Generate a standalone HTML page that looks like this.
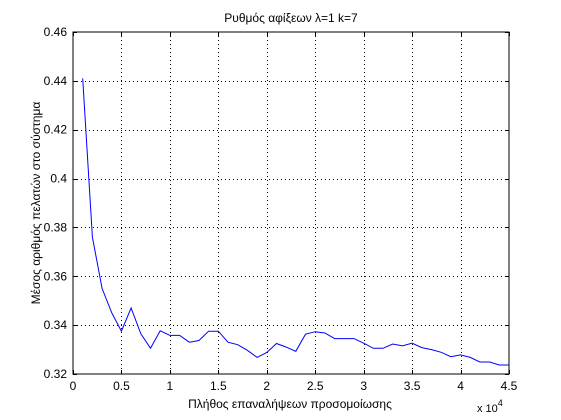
<!DOCTYPE html>
<html><head><meta charset="utf-8"><style>
body{margin:0;background:#fff;}
svg{display:block;font-family:"Liberation Sans","DejaVu Sans",sans-serif;}
</style></head><body>
<svg id="chart" width="561" height="420" viewBox="0 0 561 420">
<rect x="0" y="0" width="561" height="420" fill="#fff"/>
<rect x="73" y="32" width="436" height="342" fill="#fff" stroke="none"/>
<g id="grid"></g>
<g id="series"></g>
<rect x="73" y="32" width="436" height="342" fill="none" stroke="#000" stroke-width="1"/>
<g id="ticks"></g>
<text x="291" y="22" font-size="12" text-anchor="middle">Ρυθμός αφίξεων λ=1 k=7</text>
<text x="290" y="408" font-size="12" text-anchor="middle">Πλήθος επαναλήψεων προσομοίωσης</text>
<text transform="translate(40,203) rotate(-90)" font-size="12" text-anchor="middle">Μέσος αριθμός πελατών στο σύστημα</text>
<text x="477" y="412" font-size="11">x 10<tspan dy="-6" font-size="9">4</tspan></text>
</svg>
<script>
const xTicks=[0,0.5,1,1.5,2,2.5,3,3.5,4,4.5];
const xTickLabels=["0","0.5","1","1.5","2","2.5","3","3.5","4","4.5"];
const yTicks=[0.32,0.34,0.36,0.38,0.4,0.42,0.44,0.46];
const yTickLabels=["0.32","0.34","0.36","0.38","0.4","0.42","0.44","0.46"];
const xValues=[0.1,0.2,0.3,0.4,0.5,0.6,0.7,0.8,0.9,1.0,1.1,1.2,1.3,1.4,1.5,1.6,1.7,1.8,1.9,2.0,2.1,2.2,2.3,2.4,2.5,2.6,2.7,2.8,2.9,3.0,3.1,3.2,3.3,3.4,3.5,3.6,3.7,3.8,3.9,4.0,4.1,4.2,4.3,4.4,4.5];
const yValues=[0.441,0.376,0.355,0.345,0.3375,0.347,0.3365,0.3305,0.3377,0.3358,0.3358,0.333,0.3337,0.3375,0.3375,0.333,0.332,0.3297,0.3268,0.3288,0.3325,0.331,0.3293,0.3363,0.3373,0.3368,0.3345,0.3345,0.3345,0.3326,0.3305,0.3305,0.3323,0.3315,0.3326,0.3308,0.33,0.3289,0.3271,0.3278,0.3268,0.3249,0.3249,0.3237,0.3237];
const NS="http://www.w3.org/2000/svg";
const X0=73,X1=509,Y0=374,Y1=32;
function xs(v){return X0+(v-0)/(4.5-0)*(X1-X0);}
function ys(v){return Y0-(v-0.32)/(0.46-0.32)*(Y0-Y1);}
function mk(tag,attrs,parent){const e=document.createElementNS(NS,tag);for(const k in attrs)e.setAttribute(k,attrs[k]);parent.appendChild(e);return e;}
const grid=document.getElementById('grid'),ticks=document.getElementById('ticks'),series=document.getElementById('series');
xTicks.forEach((t,i)=>{
  const x=Math.round(xs(t))+0.5;
  if(i>0&&i<xTicks.length-1){const g=mk('line',{x1:x,x2:x,y1:Y1,y2:Y0,stroke:'#000','stroke-dasharray':'1,3','stroke-width':1},grid);
  
  }
  mk('line',{x1:x,x2:x,y1:Y0,y2:Y0-4,stroke:'#000'},ticks);
  mk('line',{x1:x,x2:x,y1:Y1,y2:Y1+4,stroke:'#000'},ticks);
  const tx=mk('text',{x:xs(t),y:Y0+16,'font-size':12,'text-anchor':'middle'},ticks);
  tx.textContent=xTickLabels[i];
  
  
});
yTicks.forEach((t,i)=>{
  const y=Math.round(ys(t))+0.5;
  if(i>0&&i<yTicks.length-1){const g=mk('line',{x1:X0,x2:X1,y1:y,y2:y,stroke:'#000','stroke-dasharray':'1,3','stroke-width':1},grid);
  
  }
  mk('line',{x1:X0,x2:X0+4,y1:y,y2:y,stroke:'#000'},ticks);
  mk('line',{x1:X1,x2:X1-4,y1:y,y2:y,stroke:'#000'},ticks);
  const tx=mk('text',{x:X0-6,y:ys(t)+4,'font-size':12,'text-anchor':'end'},ticks);
  tx.textContent=yTickLabels[i];
  
  
});
const pts=xValues.map((v,i)=>xs(v).toFixed(1)+','+ys(yValues[i]).toFixed(1)).join(' ');
const pl=mk('polyline',{points:pts,fill:'none',stroke:'#0000ff','stroke-width':1},series);


</script>
</body></html>
